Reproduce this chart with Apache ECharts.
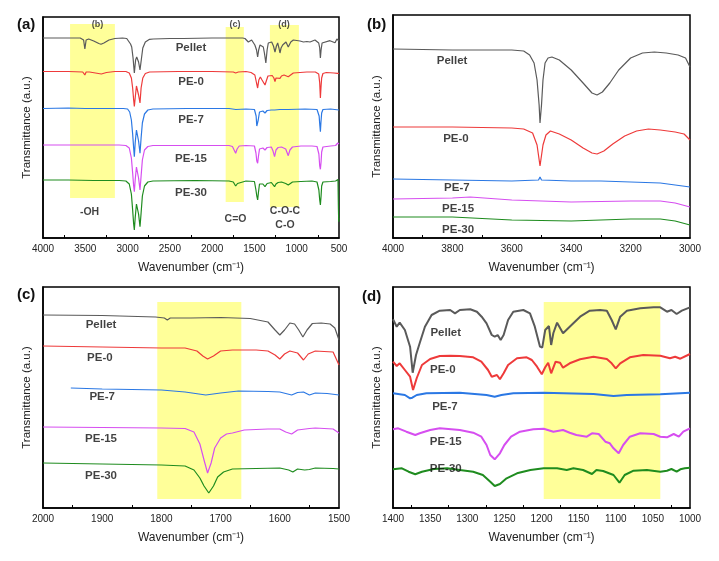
<!DOCTYPE html>
<html><head><meta charset="utf-8">
<script src="https://cdn.jsdelivr.net/npm/echarts/dist/echarts.min.js"></script>
<style>html,body{margin:0;padding:0;background:#fff}#c{width:719px;height:561px}</style>
</head><body><div id="c"></div>
<script>
// ---------- names / colours ----------
const sampleNames = ['Pellet', 'PE-0', 'PE-7', 'PE-15', 'PE-30'];
const sampleColors = ['#5a5a5a', '#ee3a3a', '#2b78e4', '#d64ef0', '#1f8c1f'];

// ---------- panel (a): full spectrum, [wavenumber, offset transmittance] ----------
const a_pellet = [[4000,200],[3700,200],[3560,200],[3520,198],[3505,189],[3490,198],[3460,199],[3400,197],[3340,194.5],[3314,193.7],[3280,195],[3220,198],[3150,199.5],[3060,200],[3010,199.5],[2965,194],[2951,191],[2935,180],[2920,165],[2905,178],[2892,181],[2870,176],[2853,168],[2835,180],[2820,190],[2790,196],[2740,198.7],[2696,199],[2500,199.5],[2380,199.5],[2360,197.5],[2340,199.5],[2000,200],[1700,200],[1640,200],[1612,199.5],[1572,196],[1533,198],[1495,193],[1475,188],[1462,181],[1450,188],[1434,193],[1395,191],[1380,184],[1365,175],[1350,188],[1336,195],[1296,196],[1275,192],[1257,186],[1240,192],[1225,195],[1210,190],[1198,185],[1185,190],[1166,193],[1127,196],[1100,191],[1088,192],[1070,196],[1040,198],[961,197],[920,196],[902,194.7],[880,196.5],[843,196],[784,198],[740,195],[728,190],[720,180],[712,188],[700,195],[678,196.3],[607,197.3],[547,195.3],[525,199],[518,201],[508,198],[500,197]];
const a_pe0 = [[4000,166.5],[3700,166.5],[3530,166],[3505,163],[3490,166],[3450,166],[3380,165],[3310,164],[3250,165.5],[3150,166.5],[3020,166.5],[2980,165],[2955,160],[2940,150],[2928,138],[2920,131.5],[2910,140],[2895,152],[2885,150],[2870,143],[2853,135],[2840,150],[2820,160],[2790,164.5],[2740,166],[2400,166.5],[2000,166.5],[1750,166],[1722,165],[1690,166],[1600,166.5],[1540,165.5],[1495,163],[1475,155],[1462,150],[1448,158],[1430,161],[1410,158],[1390,156],[1375,153],[1360,157],[1340,162],[1320,163],[1290,162.5],[1270,160],[1257,156.5],[1245,160],[1225,162],[1198,159.7],[1180,162],[1150,163],[1100,161.3],[1080,162.5],[1040,165],[960,165.5],[880,166],[780,166],[740,164],[728,155],[720,140],[712,152],[705,160],[690,164.5],[650,165.5],[560,165],[520,164.7],[500,164.7]];
const a_pe7 = [[4000,129.5],[3700,130],[3500,129.5],[3300,129.5],[3050,129.5],[3000,129],[2975,126],[2955,118],[2940,104],[2928,90],[2920,81.3],[2910,95],[2895,108],[2885,106],[2870,97],[2853,84.7],[2840,100],[2825,115],[2800,124],[2760,128],[2700,129],[2300,129.5],[1800,129.5],[1720,128.5],[1600,129],[1500,128.5],[1480,122],[1472,112],[1462,110.7],[1455,118],[1440,126],[1400,127],[1375,125],[1350,127.5],[1300,128],[1260,128],[1200,128.5],[1100,128.5],[900,129],[760,128.5],[735,122],[726,112],[720,106.3],[714,115],[705,125],[690,128.5],[600,129],[500,128]];
const a_pe15 = [[4000,93],[3700,93],[3400,93],[3100,93],[3020,92.5],[2980,90],[2955,80],[2940,65],[2928,52],[2920,46.3],[2910,58],[2895,71],[2885,69],[2870,60],[2853,48],[2840,62],[2825,78],[2800,88],[2760,91.5],[2700,92.5],[2200,92.5],[1800,92.5],[1760,91.5],[1740,88],[1722,84.7],[1705,89],[1680,92],[1600,92.5],[1500,92],[1482,85],[1472,77],[1462,74.7],[1452,82],[1440,89],[1400,90],[1375,88],[1350,90.5],[1300,91],[1280,87],[1262,81.3],[1245,88],[1220,90.5],[1180,91],[1130,89],[1100,82.3],[1080,88],[1050,91],[950,92],[820,92],[760,91.5],[738,84],[728,72],[720,68.7],[712,76],[705,86],[690,91],[600,92],[540,92.5],[515,95],[505,96.3],[500,94]];
const a_pe30 = [[4000,58],[3700,58],[3400,57.5],[3100,57.5],[3020,57],[2980,54],[2955,44],[2940,28],[2928,14],[2920,8],[2910,20],[2895,34],[2885,33],[2870,24],[2853,11.3],[2840,25],[2825,42],[2800,52],[2760,56],[2700,57],[2200,57.5],[1800,57],[1750,56],[1722,52],[1700,54.5],[1680,56.5],[1600,57],[1500,56.5],[1482,48],[1472,42],[1462,38],[1452,46],[1440,54],[1400,54],[1375,51.3],[1350,54.5],[1300,55.5],[1280,54],[1262,51.3],[1245,54],[1220,55.5],[1180,56],[1130,54.5],[1100,53],[1080,55],[1050,56],[950,56.5],[820,57],[760,56],[738,48],[728,38],[720,33],[712,42],[705,52],[690,56],[600,56.5],[540,57],[520,58],[512,58.5],[507,30],[503,16.3],[500,20]];

// ---------- panel (b): 4000-3000 ----------
const b_pellet = [[4000,189],[3800,188],[3600,188],[3560,187],[3540,183],[3525,175],[3515,158],[3508,133],[3505,115],[3500,133],[3495,158],[3488,175],[3478,180],[3465,181],[3440,178],[3400,168],[3360,155],[3330,145],[3313,143],[3295,146],[3270,155],[3240,168],[3200,180],[3160,185],[3120,186],[3080,185],[3040,183],[3015,180],[3000,171]];
const b_pe0 = [[4000,111],[3800,111],[3600,110],[3560,109],[3530,105],[3515,93],[3505,72],[3495,93],[3485,103],[3470,107],[3440,104],[3400,98],[3360,90],[3330,85],[3313,84],[3290,87],[3260,94],[3220,102],[3180,107],[3140,109],[3100,108],[3050,106],[3020,104],[3000,98]];
const b_pe7 = [[4000,59],[3800,58],[3600,57],[3510,58],[3505,61],[3500,58],[3400,57],[3300,57],[3200,56],[3100,55],[3050,53],[3000,51]];
const b_pe15 = [[4000,39],[3800,40],[3740,41],[3600,38],[3400,36],[3200,37],[3100,37],[3050,35],[3000,31]];
const b_pe30 = [[4000,21],[3800,21],[3600,18],[3400,17],[3300,18],[3200,19],[3100,19],[3050,17],[3000,13]];

// ---------- panel (c): 2000-1500 ----------
const c_pellet = [[2000,193],[1900,192.5],[1810,191],[1795,190],[1790,188],[1785,190],[1750,190],[1700,190.5],[1650,189.5],[1620,186],[1608,178],[1600,173],[1592,178],[1583,185],[1575,184],[1568,178],[1561,171],[1554,178],[1545,184.5],[1530,185],[1515,184],[1507,180],[1500,168]];
const c_pe0 = [[2000,162],[1900,161],[1800,160],[1760,160],[1740,157],[1730,152],[1722,149],[1712,152],[1700,157],[1680,158],[1640,158],[1620,157],[1608,153],[1600,149],[1592,154],[1583,157],[1570,155],[1560,148],[1552,154],[1540,157],[1510,156],[1500,143]];
const c_pe7 = [[1953,120],[1900,119],[1800,118],[1760,116],[1725,113],[1700,115],[1670,117],[1620,116.5],[1600,116],[1580,113],[1570,115.5],[1560,116],[1550,113],[1540,115],[1520,114.5],[1500,113]];
const c_pe15 = [[2000,81],[1900,80.5],[1800,80],[1760,79.5],[1745,76],[1735,64],[1728,48],[1722,35],[1716,45],[1710,60],[1700,70],[1690,74],[1680,75],[1660,78],[1620,79],[1600,79],[1590,76],[1580,74],[1570,78],[1550,79.5],[1540,80],[1510,79],[1500,75]];
const c_pe30 = [[2000,45],[1900,44],[1800,43],[1760,42],[1745,38],[1735,30],[1728,22],[1720,15],[1712,22],[1705,31],[1695,36],[1680,39],[1640,39.5],[1600,40],[1585,38],[1578,36],[1570,39],[1558,38],[1550,38.5],[1540,40],[1510,39.5],[1500,39]];

// ---------- panel (d): 1400-1000 ----------
const d_pellet = [[1400,188.7],[1395,181.3],[1391,185.3],[1384,178],[1377,161.3],[1373.5,135.3],[1369,153],[1364,165],[1357,181.3],[1348,193],[1337,197.3],[1323,198],[1316.5,194.7],[1310,198],[1296,198.7],[1287,196.3],[1280.6,191.3],[1274,184.7],[1267,173],[1263,171.3],[1259,173],[1255,168],[1251,173],[1245,188],[1238,196.3],[1224.5,198],[1215.5,194.7],[1209,181.3],[1202,161.3],[1199,160.3],[1195,178],[1190,182],[1187,163],[1184,175],[1179,185.3],[1171,174.7],[1162,181.3],[1148,191.3],[1135,197.3],[1121,198],[1112,197.3],[1105.5,188],[1100,178.7],[1094,191.3],[1085,197.3],[1067,199.7],[1049,200.7],[1040,200.7],[1031,196.3],[1025,198],[1018,194],[1011,197.3],[1000,200.7]];
const d_pe0 = [[1400,146.3],[1395,142],[1391,144.7],[1384,138],[1377,131.3],[1373,118],[1368,130],[1361,143],[1350,149],[1337,152],[1323,152.3],[1310,152],[1292,150.7],[1281,146.3],[1272,138],[1267,131.3],[1260,133],[1256,128.7],[1251,134.7],[1245,143],[1233,149.7],[1220,150.7],[1213,148],[1206,141.3],[1199.6,133.7],[1195,140.7],[1191,145.3],[1187,134.7],[1181,146.3],[1175,145.3],[1171,140.3],[1162,144.7],[1148,148.7],[1130,151.3],[1112,149],[1105.5,144.7],[1100,139.7],[1094,144.7],[1081,150.7],[1063,153],[1040,152.3],[1027,149.7],[1020,151.3],[1013,149.3],[1000,154]];
const d_pe7 = [[1400,114.7],[1384,113],[1377,109.7],[1374,110.3],[1368,113],[1355,114.7],[1310,115.3],[1274,113],[1263,111.3],[1254,113],[1238,114.7],[1197,115.3],[1130,114],[1103,112],[1085,113],[1040,113.7],[1000,115.3]];
const d_pe15 = [[1400,78.7],[1393,79.7],[1382,76.3],[1370,73],[1364,74.7],[1350,78],[1337,79.7],[1310,78],[1292,75.3],[1281,71.3],[1274,63],[1269,53],[1263,48.7],[1256,54.7],[1250,63],[1241,71.3],[1229,76.3],[1211,78.7],[1197,79.3],[1184,76.3],[1171,78],[1162,75.3],[1153,73],[1139,71.3],[1132,74.7],[1123,74],[1114,66.3],[1108,64.7],[1103,59.7],[1096,54.7],[1090,63],[1081,71.3],[1067,74.7],[1049,74],[1040,71.3],[1031,70.7],[1022,74],[1015,71.3],[1009,76.3],[1000,79.7]];
const d_pe30 = [[1400,38.7],[1388,39.7],[1379,36.3],[1370,33.7],[1361,36.3],[1345,39],[1327,39.7],[1310,38],[1292,36.3],[1279,33],[1269,26.3],[1263,22],[1256,24],[1247,29.7],[1233,34.7],[1215,38],[1197,39.7],[1179,39.7],[1166,38],[1157,39.7],[1144,38],[1132,34],[1126,38],[1117,37],[1103,33],[1095,25.3],[1088,33],[1076,37.3],[1058,38],[1040,36.3],[1031,37.3],[1025,39],[1018,36.3],[1013,38.7],[1007,39.7],[1000,40.3]];

// ---------- axis ranges / ticks ----------
const xMin = [500, 3000, 1500, 1000];
const xMax = [4000, 4000, 2000, 1400];
const xStep = [500, 200, 100, 50];
const yMax = [221, 223, 221, 221];

// ---------- highlighted bands [wnFrom, wnTo, yFrom, yTo] ----------
const a_bands = [[3680, 3150, 40, 214], [1840, 1625, 36, 211], [1317, 974, 31, 213]];
const c_bands = [[1807, 1665, 9, 206]];
const d_bands = [[1197, 1040, 9, 206]];

// ---------- text annotations ----------
const a_nameLabels = [[2250,190],[2250,156],[2250,118],[2250,79],[2250,45]];
const b_nameLabels = [[3801,177],[3788,99],[3785,50],[3781,29],[3781,8]];
const c_nameLabels = [[1902,183],[1904,150],[1900,111],[1902,69],[1902,32]];
const d_nameLabels = [[1329,175],[1333,138],[1330,101],[1329,66],[1329,39]];
const a_bandTags = [['(b)',3356,213],['(c)',1730,213],['(d)',1150,213]];
const a_groupTags = [['-OH',3450,26],['C=O',1724,19],['C-O-C',1139,27],['C-O',1139,13]];
const panelTags = ['(a)', '(b)', '(c)', '(d)'];

const panelData = [
  [a_pellet, a_pe0, a_pe7, a_pe15, a_pe30],
  [b_pellet, b_pe0, b_pe7, b_pe15, b_pe30],
  [c_pellet, c_pe0, c_pe7, c_pe15, c_pe30],
  [d_pellet, d_pe0, d_pe7, d_pe15, d_pe30]
];
const panelNameLabels = [a_nameLabels, b_nameLabels, c_nameLabels, d_nameLabels];
const panelBands = [a_bands, [], c_bands, d_bands];

const FONT = 'Liberation Sans, Arial, sans-serif';
const frame = {show: true, borderColor: '#000', borderWidth: 1.5};
const grids = [
  Object.assign({left: 43, right: 380, top: 17, bottom: 323}, frame),
  Object.assign({left: 393, right: 29, top: 15, bottom: 323}, frame),
  Object.assign({left: 43, right: 380, top: 287, bottom: 53}, frame),
  Object.assign({left: 393, right: 29, top: 287, bottom: 53}, frame)
];

const xAxes = [], yAxes = [], series = [];
for (let p = 0; p < 4; p++) {
  xAxes.push({
    type: 'value', gridIndex: p, inverse: true, min: xMin[p], max: xMax[p], interval: xStep[p],
    name: 'Wavenumber (cm⁻¹)', nameLocation: 'middle', nameGap: 24,
    nameTextStyle: {fontFamily: FONT, fontSize: 12, color: '#222'},
    axisLine: {show: true, lineStyle: {color: '#000', width: 1.5}},
    axisTick: {show: false, inside: true},
    minorTick: {show: true, splitNumber: 2, length: 3, lineStyle: {color: '#000', width: 1}},
    splitLine: {show: false}, minorSplitLine: {show: false},
    axisLabel: {fontFamily: FONT, fontSize: 10, color: '#222', margin: 6, formatter: v => String(v)}
  });
  yAxes.push({
    type: 'value', gridIndex: p, min: 0, max: yMax[p],
    name: 'Transmittance (a.u.)', nameLocation: 'middle', nameGap: 10,
    nameTextStyle: {fontFamily: FONT, fontSize: 11.5, color: '#222'},
    axisLine: {show: true, lineStyle: {color: '#000', width: 1.5}},
    axisTick: {show: false}, axisLabel: {show: false}, splitLine: {show: false}
  });
}

for (let p = 0; p < 4; p++) {
  panelData[p].forEach((d, i) => {
    series.push({
      type: 'line', xAxisIndex: p, yAxisIndex: p, data: d, showSymbol: false, silent: true,
      smooth: false, z: 2,
      lineStyle: {color: sampleColors[i], width: p === 3 ? 2 : 1.2}, itemStyle: {color: sampleColors[i]}
    });
  });
  // yellow highlight bands drawn over the spectra (semi-transparent)
  if (panelBands[p].length) {
    series.push({
      type: 'line', xAxisIndex: p, yAxisIndex: p, data: [], silent: true, z: 5,
      markArea: {
        silent: true,
        itemStyle: {color: 'rgba(255,255,51,0.5)'},
        data: panelBands[p].map(b => [{xAxis: b[0], yAxis: b[2]}, {xAxis: b[1], yAxis: b[3]}])
      }
    });
  }
  // sample name labels
  series.push({
    type: 'scatter', xAxisIndex: p, yAxisIndex: p, symbolSize: 0, silent: true, z: 6,
    data: panelNameLabels[p].map((c, i) => ({value: c, name: sampleNames[i]})),
    label: {show: true, position: 'inside', formatter: '{b}', fontFamily: FONT, fontWeight: 'bold', fontSize: 11.5, color: '#111'}
  });
}
// band tags and functional-group tags in panel (a)
series.push({
  type: 'scatter', xAxisIndex: 0, yAxisIndex: 0, symbolSize: 0, silent: true, z: 6,
  data: a_bandTags.map(t => ({value: [t[1], t[2]], name: t[0]})),
  label: {show: true, position: 'inside', formatter: '{b}', fontFamily: FONT, fontWeight: 'bold', fontSize: 9, color: '#222'}
});
series.push({
  type: 'scatter', xAxisIndex: 0, yAxisIndex: 0, symbolSize: 0, silent: true, z: 6,
  data: a_groupTags.map(t => ({value: [t[1], t[2]], name: t[0]})),
  label: {show: true, position: 'inside', formatter: '{b}', fontFamily: FONT, fontWeight: 'bold', fontSize: 10.5, color: '#111'}
});

const panelTagPos = [[17, 17], [367, 17], [17, 287], [362, 289]];
const graphic = panelTags.map((t, i) => ({
  type: 'text', left: panelTagPos[i][0], top: panelTagPos[i][1],
  style: {text: t, font: 'bold 15px ' + FONT, fill: '#111'}
}));

const chart = echarts.init(document.getElementById('c'), null, {renderer: 'canvas'});
chart.setOption({
  animation: false,
  backgroundColor: '#fff',
  grid: grids, xAxis: xAxes, yAxis: yAxes, series: series, graphic: graphic
});
</script>
</body></html>
